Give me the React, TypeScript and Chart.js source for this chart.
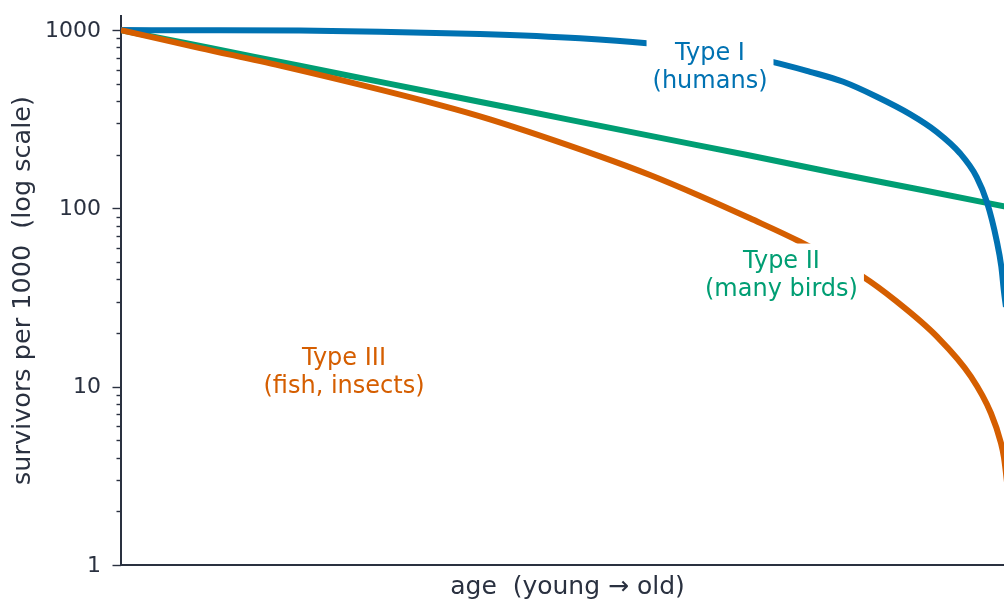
import React, { useEffect, useRef } from "react";
import { Chart, registerables } from "chart.js";

Chart.register(...registerables);

// ---- data (age 0..1, survivors per 1000) ----
const typeIAge = [0, 0.0885, 0.2004, 0.29, 0.402, 0.514, 0.589, 0.6596, 0.7305, 0.7716, 0.8088, 0.8463, 0.8835, 0.9134, 0.9395, 0.9582, 0.9698, 0.9806, 0.9858, 0.9888, 0.991];
const typeISurvivors = [1000, 999, 994, 980, 950, 899, 843, 764, 662, 584, 513, 423, 338, 269, 204, 150, 108, 66, 47.1, 34, 28];

const typeIIAge = [0, 0.1, 0.2, 0.3, 0.4, 0.5, 0.6, 0.7, 0.8, 0.9, 1.0];
const typeIISurvivors = [1000, 794, 631, 501, 398, 316, 251, 200, 158, 126, 100];

const typeIIIAge = [0, 0.0885, 0.1781, 0.3572, 0.4132, 0.5364, 0.5924, 0.6484, 0.7044, 0.7604, 0.8309, 0.8667, 0.9138, 0.9518, 0.9742, 0.9854, 0.9888, 0.9933];
const typeIIISurvivors = [1000, 793, 632, 380, 316, 196, 154, 117.5, 88, 65, 41.4, 30.6, 19.1, 11.4, 7.1, 4.83, 4.0, 2.6];

const seriesNames = ["Type I", "Type II", "Type III"];
const seriesColors = ["#0072B2", "#009E73", "#D55E00"];

const yTickValues = [1, 2, 3, 4, 5, 6, 7, 8, 9, 10, 20, 30, 40, 50, 60, 70, 80, 90, 100, 200, 300, 400, 500, 600, 700, 800, 900, 1000];
const yMajorTicks = [1, 10, 100, 1000];

const labelLines = [["Type I", "(humans)"], ["Type II", "(many birds)"], ["Type III", "(fish, insects)"]];
const labelAges = [0.6596, 0.7396, 0.2497];
const labelSurvivors = [634, 43.4, 12.4];

const yTitle = "survivors per 1000  (log scale)";
const xTitle = "age  (young \u2192 old)";

// ---- styling ----
const FONT = '"DejaVu Sans", "Liberation Sans", sans-serif';
const AXIS_COLOR = "#2a3140";
const ANN_SIZE = 24;

const minorTickPlugin = {
  id: "logTickMarks",
  afterDraw(chart: any) {
    const { ctx, chartArea } = chart;
    const y = chart.scales.y;
    ctx.save();
    ctx.strokeStyle = AXIS_COLOR;
    ctx.lineWidth = 1.4;
    yTickValues.forEach((v) => {
      const py = Math.round(y.getPixelForValue(v)) + 0.5;
      const len = yMajorTicks.includes(v) ? 8.5 : 4.5;
      ctx.beginPath();
      ctx.moveTo(chartArea.left - len, py);
      ctx.lineTo(chartArea.left, py);
      ctx.stroke();
    });
    ctx.restore();
  },
};

const labelPlugin = {
  id: "curveLabels",
  afterDatasetsDraw(chart: any) {
    const { ctx } = chart;
    const xs = chart.scales.x;
    const ys = chart.scales.y;
    ctx.save();
    ctx.font = `${ANN_SIZE}px ${FONT}`;
    ctx.textAlign = "center";
    ctx.textBaseline = "alphabetic";
    const lh = 27.5;
    const capH = 0.729 * ANN_SIZE;
    labelLines.forEach((lines, i) => {
      const cx = xs.getPixelForValue(labelAges[i]);
      const cy = ys.getPixelForValue(labelSurvivors[i]);
      const base1 = cy - lh / 2 + capH / 2;
      const w = Math.max(...lines.map((l) => ctx.measureText(l).width));
      const top = base1 - capH - 7;
      const bottom = base1 + lh * (lines.length - 1) + 0.24 * ANN_SIZE + 5;
      ctx.fillStyle = "#ffffff";
      ctx.fillRect(cx - w / 2 - 6, top, w + 12, bottom - top);
      ctx.fillStyle = seriesColors[i];
      lines.forEach((l, k) => ctx.fillText(l, cx, base1 + k * lh));
    });
    ctx.restore();
  },
};

function toPoints(xs: number[], ys: number[]) {
  return xs.map((x, i) => ({ x, y: ys[i] }));
}

export default function App() {
  const canvasRef = useRef<HTMLCanvasElement | null>(null);

  useEffect(() => {
    if (!canvasRef.current) return;
    const chart = new Chart(canvasRef.current, {
      type: "line",
      data: {
        datasets: [
          {
            label: seriesNames[0],
            data: toPoints(typeIAge, typeISurvivors),
            borderColor: seriesColors[0],
            borderWidth: 6,
            pointRadius: 0,
            cubicInterpolationMode: "monotone",
            order: 1,
          },
          {
            label: seriesNames[1],
            data: toPoints(typeIIAge, typeIISurvivors),
            borderColor: seriesColors[1],
            borderWidth: 6,
            pointRadius: 0,
            cubicInterpolationMode: "monotone",
            order: 2,
          },
          {
            label: seriesNames[2],
            data: toPoints(typeIIIAge, typeIIISurvivors),
            borderColor: seriesColors[2],
            borderWidth: 6,
            pointRadius: 0,
            cubicInterpolationMode: "monotone",
            order: 0,
          },
        ],
      },
      options: {
        animation: false,
        responsive: true,
        maintainAspectRatio: false,
        layout: { padding: { top: 16, right: 0, left: 0, bottom: 0 } },
        plugins: {
          legend: { display: false },
          tooltip: { enabled: false },
        },
        scales: {
          x: {
            type: "linear",
            min: 0,
            max: 1,
            ticks: { display: false },
            grid: { display: false, drawTicks: false },
            border: { display: true, color: AXIS_COLOR, width: 2 },
            title: {
              display: true,
              text: xTitle,
              color: AXIS_COLOR,
              font: { family: FONT, size: 25, lineHeight: 1.1 },
              padding: { top: 0, bottom: -2 },
            },
            afterFit: (scale: any) => {
              scale.height = 34;
              scale.paddingLeft = 0;
              scale.paddingRight = 0;
            },
          },
          y: {
            type: "logarithmic",
            min: 1,
            max: 1200,
            afterBuildTicks: (scale: any) => {
              scale.ticks = yTickValues.map((v) => ({ value: v, major: yMajorTicks.includes(v) }));
            },
            ticks: {
              autoSkip: false,
              padding: 20,
              labelOffset: 1,
              color: AXIS_COLOR,
              font: { family: FONT, size: 22 },
              callback: (v: any) => (yMajorTicks.includes(Number(v)) ? String(v) : ""),
            },
            grid: { display: false, drawTicks: false },
            border: { display: true, color: AXIS_COLOR, width: 2 },
            title: {
              display: true,
              text: yTitle,
              color: AXIS_COLOR,
              font: { family: FONT, size: 25.5, lineHeight: 1.2 },
              padding: { top: 8, bottom: 0 },
            },
            afterFit: (scale: any) => {
              scale.width = 121;
              scale.paddingTop = 0;
              scale.paddingBottom = 0;
            },
          },
        },
      },
      plugins: [minorTickPlugin, labelPlugin],
    });
    return () => chart.destroy();
  }, []);

  return (
    <div style={{ position: "absolute", left: 0, top: 0, width: 1004, height: 599, overflow: "hidden", background: "#ffffff" }}>
      <div style={{ position: "relative", width: 1014, height: 599 }}>
        <canvas ref={canvasRef} />
      </div>
    </div>
  );
}
